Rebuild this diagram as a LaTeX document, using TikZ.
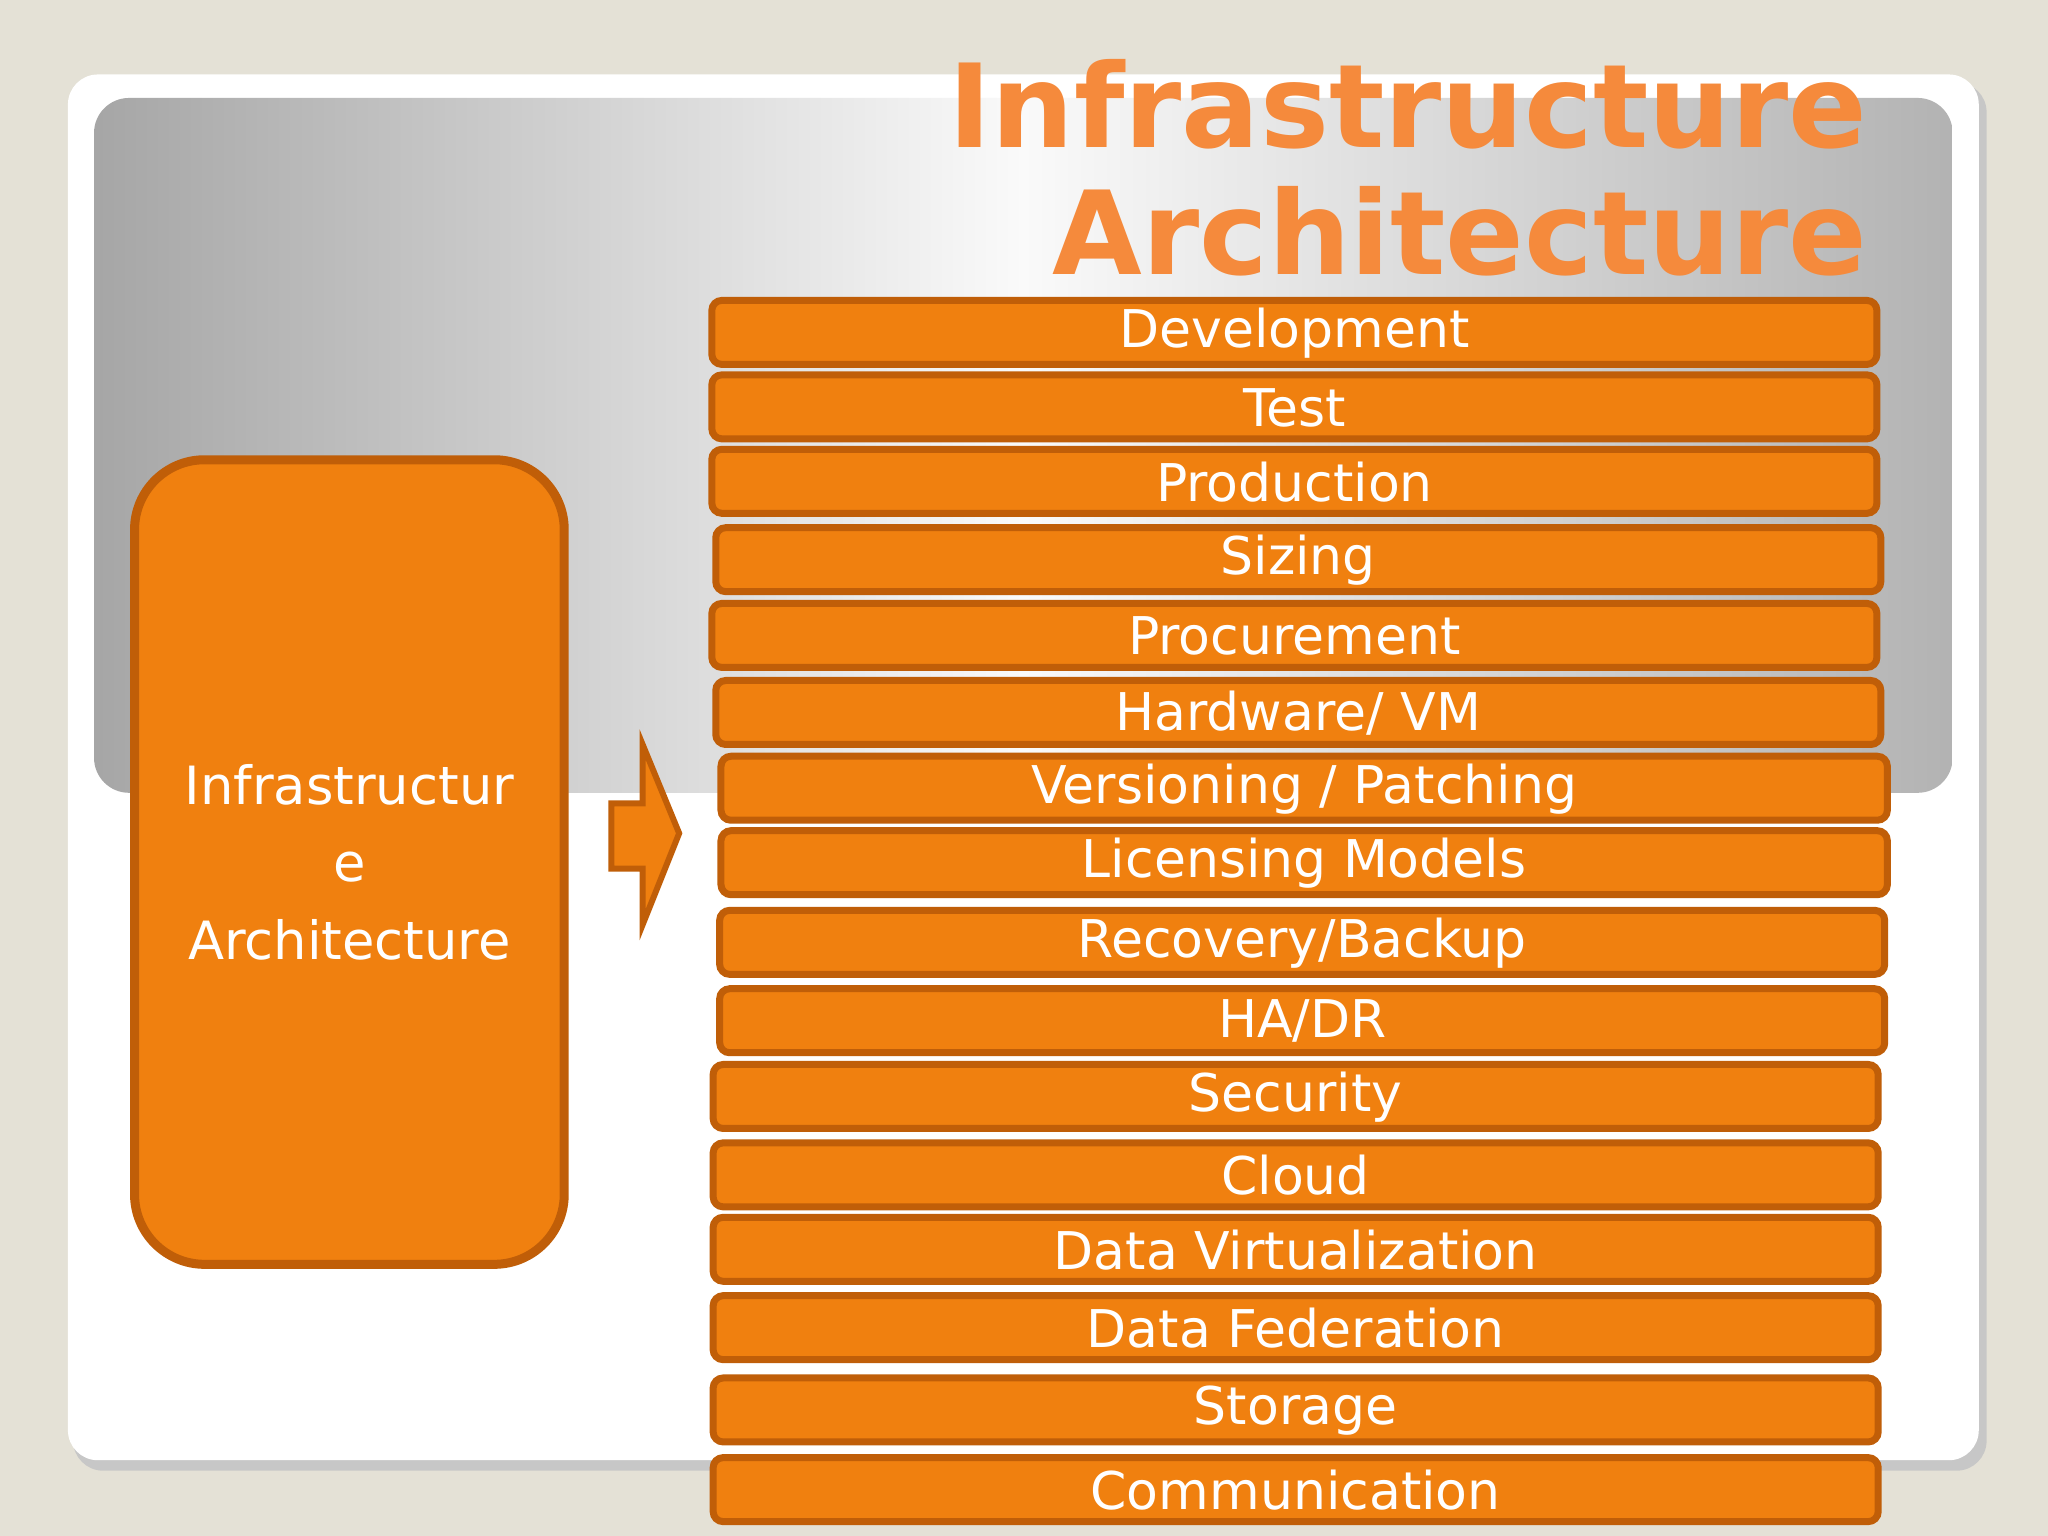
\documentclass[tikz,border=0pt]{standalone}
\usepackage{fontspec}
\setmainfont{DejaVu Sans}
\usetikzlibrary{shadows}
\definecolor{bg}{HTML}{E4E1D6}
\definecolor{org}{HTML}{F0800F}
\definecolor{orgd}{HTML}{C05E08}
\definecolor{ttl}{HTML}{F58A3C}
\tikzset{bar/.style={draw=orgd,line width=0.7mm,fill=org,rounded corners=1mm},
bartext/.style={text=white,font=\fontsize{14.8}{18}\selectfont,inner sep=0}}
\begin{document}
\begin{tikzpicture}[x=0.013061cm,y=-0.013061cm]
\fill[bg] (0,0) rectangle (1568,1176);
\useasboundingbox (0,0) rectangle (1568,1176);
\fill[black!22,rounded corners=3mm] (56,63) rectangle (1521,1126);
\fill[white,rounded corners=3mm] (52,57) rectangle (1515,1118);
\shade[left color=gray!70,right color=gray!60,middle color=white!96!gray,rounded corners=3.5mm] (72,75) rectangle (1495,607);
\node[anchor=north east,align=right,text=ttl,font=\fontsize{33}{38}\selectfont\bfseries,inner sep=0] (title) at (1430,45) {Infrastructure\\[-2pt]Architecture};
\node[draw=orgd,line width=0.9mm,fill=org,rounded corners=7mm,minimum width=329*0.013061cm,minimum height=616*0.013061cm,text=white,align=center,font=\fontsize{15}{22}\selectfont] (main) at (267.5,660) {Infrastructur\\e\\Architecture};
\draw[draw=orgd,line width=0.6mm,fill=org] (468,615) -- (492,615) -- (492,570) -- (520,638) -- (492,708) -- (492,665) -- (468,665) -- cycle;
\coordinate (arr) at (494,638);
\foreach \n/\xa/\xb/\ya/\t in {b1/545/1437/230/{Development},b2/545/1437/287/{Test},b3/545/1437/344/{Production},b4/548/1440/404/{Sizing},b5/545/1437/462/{Procurement},b6/548/1440/521/{Hardware/ VM},b7/552/1445/579/{Versioning / Patching},b8/552/1445/636/{Licensing Models},b9/551/1443/697/{Recovery/Backup},b10/551/1443/757/{HA/DR},b11/546/1438/815/{Security},b12/546/1438/875/{Cloud},b13/546/1438/932/{Data Virtualization},b14/546/1438/992/{Data Federation},b15/546/1438/1055/{Storage},b16/546/1438/1116/{Communication}}{
\draw[bar] (\xa,\ya) rectangle (\xb,\ya+49);
\node[bartext] (\n) at ({(\xa+\xb)/2},\ya+25) {\t};
}
\end{tikzpicture}
\end{document}
